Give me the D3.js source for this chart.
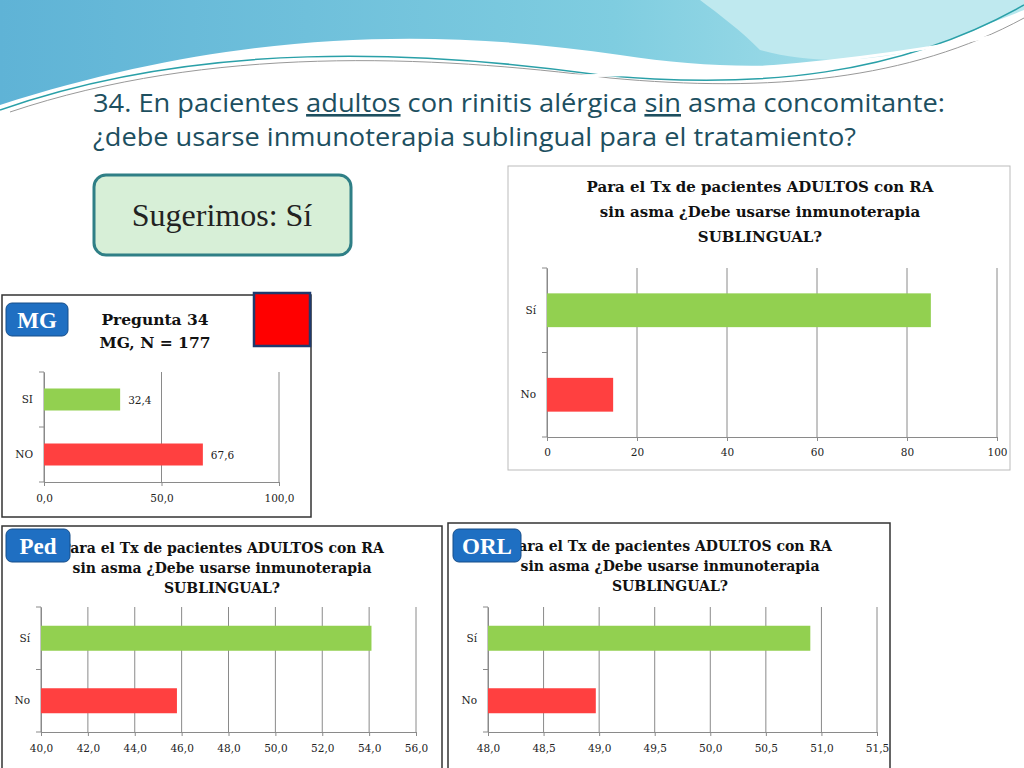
<!DOCTYPE html>
<html><head><meta charset="utf-8">
<script src="https://cdn.jsdelivr.net/npm/d3@7"></script>
<style>body{margin:0;background:#fff}svg{display:block}</style>
</head><body><svg id="s" width="1024" height="768"></svg>
<script>
const mainCats=["Sí","No"], mainVals=[85.3,14.7], mainTicks=[0,20,40,60,80,100];
const mgCats=["SI","NO"], mgVals=[32.4,67.6], mgTicks=[0,50,100];
const pedCats=["Sí","No"], pedVals=[54.1,45.8], pedTicks=[40,42,44,46,48,50,52,54,56];
const orlCats=["Sí","No"], orlVals=[50.9,48.97], orlTicks=[48,48.5,49,49.5,50,50.5,51,51.5];
const colors=["#92d050","#ff4040"];
const svg=d3.select("#s");
const defs=svg.append("defs");
const g1=defs.append("linearGradient").attr("id","wg").attr("x1","0").attr("x2","1");
g1.append("stop").attr("offset","0").attr("stop-color","#5fb3d6");
g1.append("stop").attr("offset","0.6").attr("stop-color","#7fcde0");
g1.append("stop").attr("offset","1").attr("stop-color","#b8e8ee");
svg.append("path").attr("d","M0,0 H1024 V10 C900,60 780,80 620,55 C450,30 250,25 0,105 Z").attr("fill","url(#wg)");
svg.append("path").attr("d","M700,0 H1024 V5 C950,50 850,75 760,50 C740,30 720,15 700,0 Z").attr("fill","#bfe9ef");
svg.append("path").attr("d","M0,110 C200,40 420,50 600,75 C760,90 900,75 1024,5").attr("fill","none").attr("stroke","#2aa0a8").attr("stroke-width",1.5);
svg.append("path").attr("d","M10,112 C210,45 430,55 610,78 C770,93 910,80 1024,18").attr("fill","none").attr("stroke","#999").attr("stroke-width",1);
svg.append("path").attr("d","M0,120 C300,35 600,120 1024,30").attr("fill","none").attr("stroke","#ffffff").attr("stroke-width",3);

const tf="'Open Sans',sans-serif";
svg.append("text").attr("x",93).attr("y",112).attr("font-family",tf).attr("font-size",26).attr("fill","#1d4f5f").attr("textLength",852).attr("lengthAdjust","spacingAndGlyphs")
 .html('34. En pacientes <tspan text-decoration="underline">adultos</tspan> con rinitis alérgica <tspan text-decoration="underline">sin</tspan> asma concomitante:');
svg.append("text").attr("x",93).attr("y",146).attr("font-family",tf).attr("font-size",26).attr("fill","#1d4f5f").attr("textLength",763).attr("lengthAdjust","spacingAndGlyphs")
 .text("¿debe usarse inmunoterapia sublingual para el tratamiento?");
svg.append("rect").attr("x",94).attr("y",175).attr("width",257).attr("height",80).attr("rx",12).attr("fill","#d7efd7").attr("stroke","#2f7f86").attr("stroke-width",3);
svg.append("text").attr("x",222).attr("y",226).attr("text-anchor","middle").attr("font-family","'Liberation Serif',serif").attr("font-size",32).attr("fill","#222").text("Sugerimos: Sí");

const sf="'DejaVu Serif','Liberation Serif',serif";
function chart(o){
  svg.append("rect").attr("x",o.px).attr("y",o.py).attr("width",o.pw).attr("height",o.ph).attr("fill","#fff").attr("stroke",o.pstroke).attr("stroke-width",o.psw);
  const g=svg.append("g");
  o.title.forEach((t,i)=>g.append("text").attr("x",o.tx).attr("y",o.ty+i*o.tl).attr("text-anchor","middle").attr("font-family",sf).attr("font-weight","bold").attr("font-size",o.tfs).attr("fill","#111").text(t));
  const x=d3.scaleLinear().domain(d3.extent(o.ticks)).range([o.x0,o.x1]);
  const y=d3.scaleBand().domain(o.cats).range([o.y0,o.y1]).paddingInner(0.6).paddingOuter(0.3);
  g.selectAll(".gl").data(o.ticks).enter().append("line").attr("x1",d=>x(d)).attr("x2",d=>x(d)).attr("y1",o.y0).attr("y2",o.y1).attr("stroke","#8a8a8a");
  const ax=d3.axisBottom(x).tickValues(o.ticks).tickSize(4).tickFormat(o.fmt);
  const ag=g.append("g").attr("transform",`translate(0,${o.y1})`).call(ax);
  ag.select(".domain").attr("stroke","#8a8a8a");
  ag.selectAll("line").attr("stroke","#8a8a8a");
  ag.selectAll("text").attr("font-family",sf).attr("font-size",o.fs).attr("fill","#222").attr("dy",o.tdy);
  const ay=d3.axisLeft(y).tickSize(0);
  const yg=g.append("g").attr("transform",`translate(${o.x0},0)`).call(ay);
  yg.select(".domain").attr("stroke","#8a8a8a");
  yg.selectAll("text").attr("font-family",sf).attr("font-size",o.fs).attr("fill","#222").attr("dx",-8);
  const mid=(o.y0+o.y1)/2;
  [o.y0,mid,o.y1].forEach(v=>g.append("line").attr("x1",o.x0-5).attr("x2",o.x0).attr("y1",v).attr("y2",v).attr("stroke","#8a8a8a"));
  g.selectAll(".b").data(o.vals).enter().append("rect").attr("x",o.x0).attr("y",(d,i)=>y(o.cats[i])).attr("height",y.bandwidth()).attr("width",d=>x(d)-o.x0).attr("fill",(d,i)=>colors[i]);
  if(o.labels) g.selectAll(".l").data(o.vals).enter().append("text").attr("x",d=>x(d)+8).attr("y",(d,i)=>y(o.cats[i])+y.bandwidth()/2+4).attr("font-family",sf).attr("font-size",o.fs).attr("fill","#222").text(d=>d3.format(".1f")(d).replace(".",","));
}
const c1=d3.format(".1f"), cm=d=>c1(d).replace(".",",");
const T=["Para el Tx de pacientes ADULTOS con RA","sin asma ¿Debe usarse inmunoterapia","SUBLINGUAL?"];
chart({px:508,py:166,pw:502,ph:304,pstroke:"#bbb",psw:1,title:T,tx:760,ty:192,tl:25,tfs:15,cats:mainCats,vals:mainVals,ticks:mainTicks,x0:547,x1:997,y0:268,y1:437,fs:10.5,tdy:"1.1em",fmt:d3.format("d")});
chart({px:2,py:295,pw:309,ph:222,pstroke:"#333",psw:1.5,title:["Pregunta 34","MG, N = 177"],tx:155,ty:325,tl:23,tfs:15.5,cats:mgCats,vals:mgVals,ticks:mgTicks,x0:44,x1:279,y0:372,y1:482,fs:10.5,tdy:"1.2em",fmt:cm,labels:true});
chart({px:2,py:526,pw:440,ph:250,pstroke:"#333",psw:1.5,title:T,tx:222,ty:553,tl:20,tfs:14,cats:pedCats,vals:pedVals,ticks:pedTicks,x0:41,x1:416,y0:607,y1:732,fs:10.5,tdy:"1.2em",fmt:cm});
chart({px:448,py:523,pw:442,ph:250,pstroke:"#333",psw:1.5,title:T,tx:670,ty:551,tl:20,tfs:14,cats:orlCats,vals:orlVals,ticks:orlTicks,x0:488,x1:877,y0:607,y1:732,fs:10.5,tdy:"1.2em",fmt:cm});
svg.append("rect").attr("x",254).attr("y",293).attr("width",56).attr("height",53).attr("fill","#ff0000").attr("stroke","#1f3a6e").attr("stroke-width",2.5);
function badge(x,y,w,t){svg.append("rect").attr("x",x).attr("y",y).attr("width",w).attr("height",33).attr("rx",6).attr("fill","#1f6fc2").attr("stroke","#174e8a");
 svg.append("text").attr("x",x+w/2).attr("y",y+25).attr("text-anchor","middle").attr("font-family","'Liberation Serif',serif").attr("font-weight","bold").attr("font-size",23).attr("fill","#fff").text(t);}
badge(6,303,62,"MG");badge(6,529,64,"Ped");badge(453,529,68,"ORL");
</script></body></html>
